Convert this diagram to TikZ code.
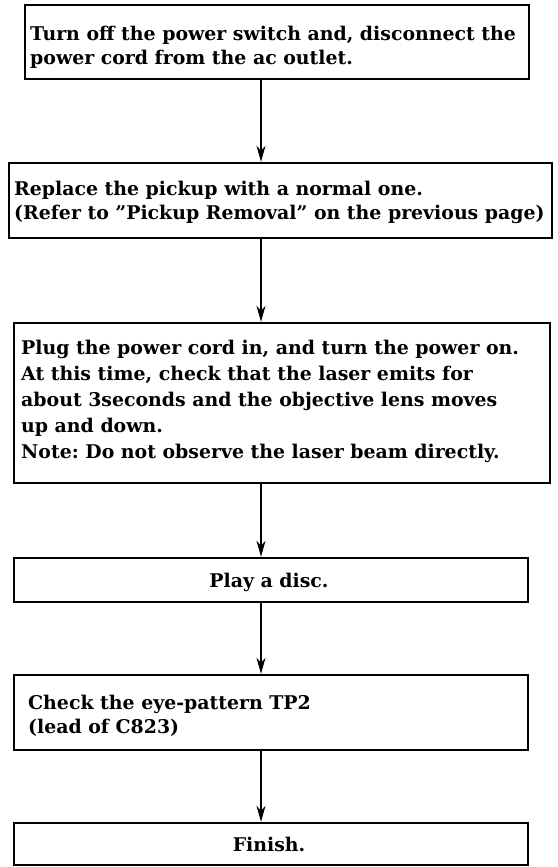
\documentclass[tikz,border=0pt]{standalone}
\usepackage{fontspec}
\setmainfont{DejaVu Serif}
\usetikzlibrary{arrows.meta}
\tikzset{
  frame/.style={draw=black, line width=2.4pt, rectangle, inner sep=0pt},
  txt/.style={font=\bfseries\fontsize{18.9}{24}\selectfont\frenchspacing, inner sep=0pt, align=left, anchor=north west},
  ctxt/.style={font=\bfseries\fontsize{18.9}{24}\selectfont, inner sep=0pt, anchor=base},
  flow/.style={line width=2pt, -{Stealth[length=16pt, width=9pt, inset=5pt]}}
}
\begin{document}
\begin{tikzpicture}[x=1pt, y=-1pt]
\useasboundingbox[fill=white] (0,0) rectangle (557,867);
\coordinate (ax) at (261,0);
% boxes
\node[frame, minimum width=504pt, minimum height=74pt] (b1) at (277,42) {};
\node[frame, minimum width=543pt, minimum height=75pt] (b2) at (280.5,200.5) {};
\node[frame, minimum width=536pt, minimum height=160pt] (b3) at (282,403) {};
\node[frame, minimum width=514pt, minimum height=44pt] (b4) at (271,580) {};
\node[frame, minimum width=514pt, minimum height=75pt] (b5) at (271,712.5) {};
\node[frame, minimum width=514pt, minimum height=42pt] (b6) at (271,844) {};
% texts
\node[txt] (t1) at (30,25.6)
  {Turn off the power switch and, disconnect the\\power cord from the ac outlet.};
\node[txt] (t2) at (14,180.6)
  {Replace the pickup with a normal one.\\(Refer to ”Pickup Removal” on the previous page)};
\node[txt, font=\bfseries\fontsize{18.9}{26}\selectfont\frenchspacing] (t3) at (21,339.6)
  {Plug the power cord in, and turn the power on.\\At this time, check that the laser emits for\\about 3seconds and the objective lens moves\\up and down.\\Note: Do not observe the laser beam directly.};
\node[ctxt] (t4) at (269,587) {Play a disc.};
\node[txt] (t5) at (28,694.6)
  {Check the eye-pattern TP2\\(lead of C823)};
\node[ctxt] (t6) at (269,851) {Finish.};
% arrows
\draw[flow] (b1.south -| ax) -- (b2.north -| ax);
\draw[flow] (b2.south -| ax) -- (b3.north -| ax);
\draw[flow] (b3.south -| ax) -- (b4.north -| ax);
\draw[flow] (b4.south -| ax) -- (b5.north -| ax);
\draw[flow] (b5.south -| ax) -- (b6.north -| ax);
\end{tikzpicture}
\end{document}
